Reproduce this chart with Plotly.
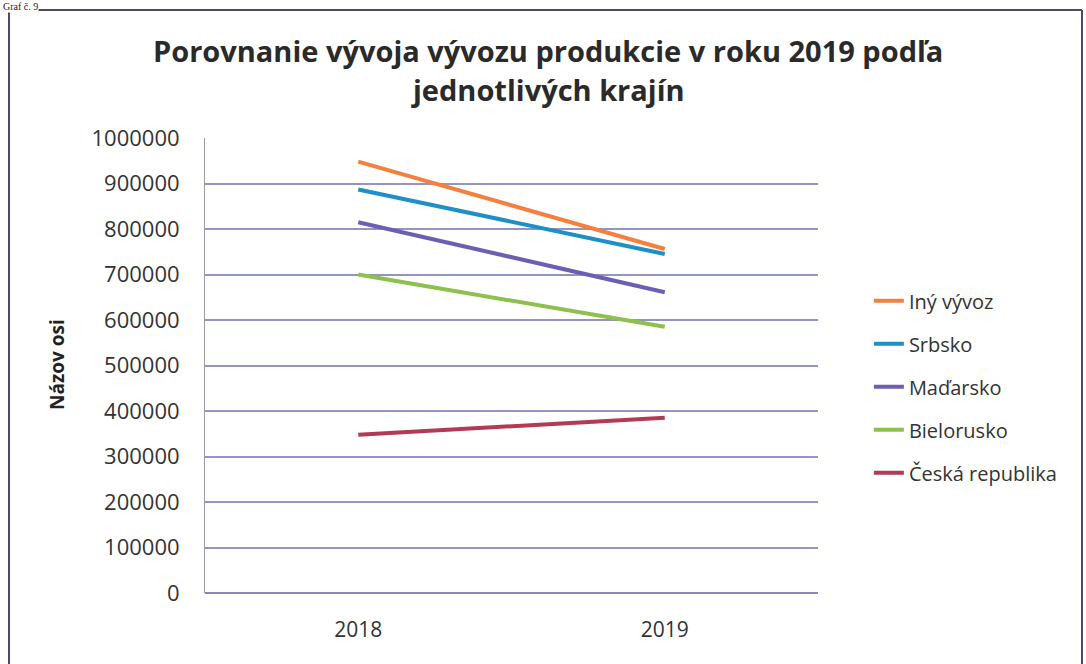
import plotly.graph_objects as go

years = ["2018", "2019"]
series_names = ["Iný vývoz", "Srbsko", "Maďarsko", "Bielorusko", "Česká republika"]
iny_vyvoz = [948000, 756000]
srbsko = [887000, 745000]
madarsko = [815000, 661000]
bielorusko = [700000, 585000]
ceska_republika = [348000, 385000]
y_ticks = [0, 100000, 200000, 300000, 400000, 500000, 600000, 700000, 800000, 900000, 1000000]

series_values = [iny_vyvoz, srbsko, madarsko, bielorusko, ceska_republika]
colors = ["#F5803E", "#1F8FC8", "#6C5EB2", "#8DC04C", "#B23A55"]

FONT = "Open Sans"
L, R, T, B = 205, 818, 138, 593  # plot area in page pixels
W, H = 1086, 664

def px(xp):
    return (xp - L) / (R - L)

def py(yp):
    return (B - yp) / (B - T)

fig = go.Figure()
for name, vals, col in zip(series_names, series_values, colors):
    fig.add_trace(go.Scatter(
        x=years, y=vals, mode="lines", name=name, legendgroup=name,
        line=dict(color=col, width=4),
    ))

fig.update_layout(
    width=W, height=H,
    margin=dict(l=L, r=W - R, t=T, b=H - B, autoexpand=False),
    paper_bgcolor="white", plot_bgcolor="white",
    font=dict(family=FONT, color="#333333"),
    showlegend=True,
    legend=dict(
        x=1.083, xanchor="left", y=0.685, yanchor="top",
        font=dict(family=FONT, size=20, color="#333333"),
        tracegroupgap=14, bgcolor="rgba(0,0,0,0)",
    ),
    xaxis=dict(
        type="category", range=[-0.5, 1.5], automargin=False,
        showgrid=False, showline=False, zeroline=False,
        tickfont=dict(family=FONT, size=21, color="#333333"),
        ticks="", ticklabelstandoff=22,
    ),
    yaxis=dict(
        range=[0, 1000000], tickvals=y_ticks, ticktext=[str(v) for v in y_ticks],
        automargin=False,
        showgrid=True, gridcolor="#9494C2", gridwidth=1.5,
        zeroline=True, zerolinecolor="#8888BB", zerolinewidth=1.5,
        showline=True, linecolor="#9A9A9A", linewidth=1,
        tickfont=dict(family=FONT, size=22, color="#333333"),
        ticks="", ticklabelstandoff=20,
    ),
)

# Axis title
fig.add_annotation(text="<b>Názov osi</b>", xref="paper", yref="paper",
                   x=px(57), y=py(365), xanchor="center", yanchor="middle",
                   textangle=-90, showarrow=False,
                   font=dict(family=FONT, size=19, color="#222222"))

# Title as two lines
fig.add_annotation(text="<b>Porovnanie vývoja vývozu produkcie v roku 2019 podľa</b>",
                   xref="paper", yref="paper", x=px(548), y=py(50),
                   xanchor="center", yanchor="middle", showarrow=False,
                   font=dict(family=FONT, size=29, color="#2A2A2A"))
fig.add_annotation(text="<b>jednotlivých krajín</b>",
                   xref="paper", yref="paper", x=px(548), y=py(90),
                   xanchor="center", yanchor="middle", showarrow=False,
                   font=dict(family=FONT, size=29, color="#2A2A2A"))
# Caption at top-left (partially hidden by the page edge in the original scan)
fig.add_annotation(text="Graf č. 9", xref="paper", yref="paper",
                   x=px(2), y=py(0), xanchor="left", yanchor="top",
                   showarrow=False, font=dict(family="Liberation Serif", size=10, color="#222222"),
                   bgcolor="white", borderpad=0)

# Chart border
bx0, bx1 = px(9), px(1082)
by0, by1 = py(670), py(10)
for x0, y0, x1, y1 in [(bx0, by1, bx1, by1), (bx0, by0, bx0, by1), (bx1, by0, bx1, by1)]:
    fig.add_shape(type="line", xref="paper", yref="paper", x0=x0, y0=y0, x1=x1, y1=y1,
                  line=dict(color="#4A4A6A", width=2), layer="above")

fig.write_html("out.html", config={"displayModeBar": False},
               post_script="document.body.style.margin='0';document.body.style.overflow='hidden';")
